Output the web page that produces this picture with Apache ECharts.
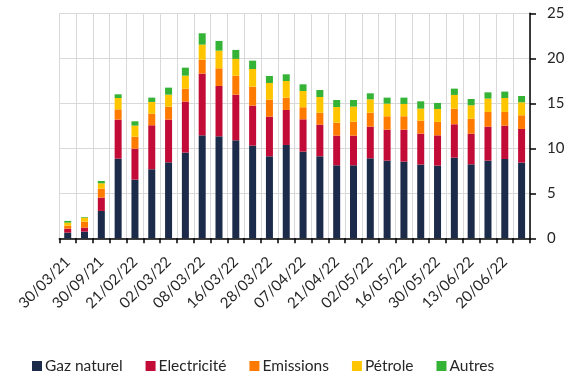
<!DOCTYPE html>
<html>
<head>
<meta charset="utf-8">
<script src="https://cdn.jsdelivr.net/npm/echarts@6/dist/echarts.min.js"></script>
<style>
  html, body { margin: 0; padding: 0; background: #fff; }
  #chart { width: 571px; height: 376px; }
</style>
</head>
<body>
<div id="chart"></div>
<script>
// Dates of each observation (every other one is labelled on the axis)
const dates = [
  '30/03/21', '30/06/21', '30/09/21', '31/12/21', '21/02/22', '24/02/22',
  '02/03/22', '04/03/22', '08/03/22', '10/03/22', '16/03/22', '22/03/22',
  '28/03/22', '31/03/22', '07/04/22', '14/04/22', '21/04/22', '26/04/22',
  '02/05/22', '09/05/22', '16/05/22', '23/05/22', '30/05/22', '06/06/22',
  '13/06/22', '16/06/22', '20/06/22', '24/06/22'
];

const gazNaturel = [
  0.63, 0.74, 3.04, 8.85, 6.52, 7.67, 8.44, 9.52, 11.44, 11.33, 10.89, 10.30,
  9.11, 10.37, 9.63, 9.11, 8.11, 8.11, 8.89, 8.63, 8.52, 8.19, 8.07, 8.96,
  8.22, 8.63, 8.81, 8.41
];
const electricite = [
  0.44, 0.45, 1.48, 4.34, 3.44, 4.89, 4.75, 5.67, 6.86, 5.60, 5.07, 4.44,
  4.41, 3.89, 3.59, 3.52, 3.30, 3.30, 3.52, 3.44, 3.55, 3.44, 3.37, 3.71,
  3.41, 3.78, 3.71, 3.74
];
const emissions = [
  0.33, 0.66, 1.00, 1.14, 1.34, 1.29, 1.44, 1.44, 1.55, 1.96, 2.11, 2.11,
  1.89, 1.37, 1.34, 1.33, 1.44, 1.55, 1.55, 1.49, 1.49, 1.44, 1.49, 1.74,
  1.67, 1.63, 1.52, 1.52
];
const petrole = [
  0.34, 0.45, 0.59, 1.26, 1.22, 1.30, 1.33, 1.44, 1.67, 1.96, 1.86, 1.96,
  1.85, 1.85, 1.81, 1.74, 1.74, 1.67, 1.48, 1.40, 1.37, 1.34, 1.44, 1.52,
  1.48, 1.48, 1.55, 1.44
];
const autres = [
  0.19, 0.07, 0.26, 0.41, 0.48, 0.48, 0.78, 0.89, 1.26, 1.08, 1.00, 0.93,
  0.78, 0.74, 0.74, 0.78, 0.78, 0.74, 0.67, 0.67, 0.70, 0.81, 0.67, 0.70,
  0.70, 0.70, 0.71, 0.70
];

const seriesNames = ['Gaz naturel', 'Electricité', 'Emissions', 'Pétrole', 'Autres'];
const seriesData = [gazNaturel, electricite, emissions, petrole, autres];
const seriesColors = ['#1b2b49', '#c20c37', '#ff7b00', '#ffc600', '#35b336'];

const font = 'Lato, "Open Sans", "Liberation Sans", sans-serif';
const textColor = '#262626';

const chart = echarts.init(document.getElementById('chart'), null, { renderer: 'canvas' });

chart.setOption({
  animation: false,
  backgroundColor: '#ffffff',
  grid: { left: 59.3, right: 41, top: 13.3, bottom: 137.7, containLabel: false },
  legend: {
    top: 353,
    left: 27,
    itemWidth: 10,
    itemHeight: 10,
    itemGap: 23,
    icon: 'rect',
    textStyle: { fontFamily: font, fontSize: 15.5, color: textColor, padding: [0, 0, 0, -2] },
    data: seriesNames
  },
  xAxis: {
    type: 'category',
    data: dates,
    boundaryGap: true,
    axisLine: { show: true, lineStyle: { color: '#000', width: 1.5 } },
    axisTick: { show: true, interval: 0, length: 5, lineStyle: { color: '#000', width: 1.5 } },
    axisLabel: {
      interval: 1,
      rotate: 45,
      margin: 21,
      fontFamily: font,
      fontSize: 15,
      color: textColor
    },
    splitLine: { show: true, interval: 0, lineStyle: { color: '#d9d9d9', width: 1 } }
  },
  yAxis: {
    type: 'value',
    position: 'right',
    min: 0,
    max: 25,
    interval: 5,
    axisLine: { show: true, lineStyle: { color: '#000', width: 1.5 } },
    axisTick: { show: true, length: 6, lineStyle: { color: '#000', width: 1.5 } },
    axisLabel: { margin: 17, fontFamily: font, fontSize: 15, color: textColor },
    splitLine: { show: true, lineStyle: { color: '#d9d9d9', width: 1 } }
  },
  series: seriesNames.map((name, i) => ({
    name: name,
    type: 'bar',
    stack: 'total',
    barWidth: 7,
    itemStyle: { color: seriesColors[i] },
    data: seriesData[i]
  }))
});
</script>
</body>
</html>
